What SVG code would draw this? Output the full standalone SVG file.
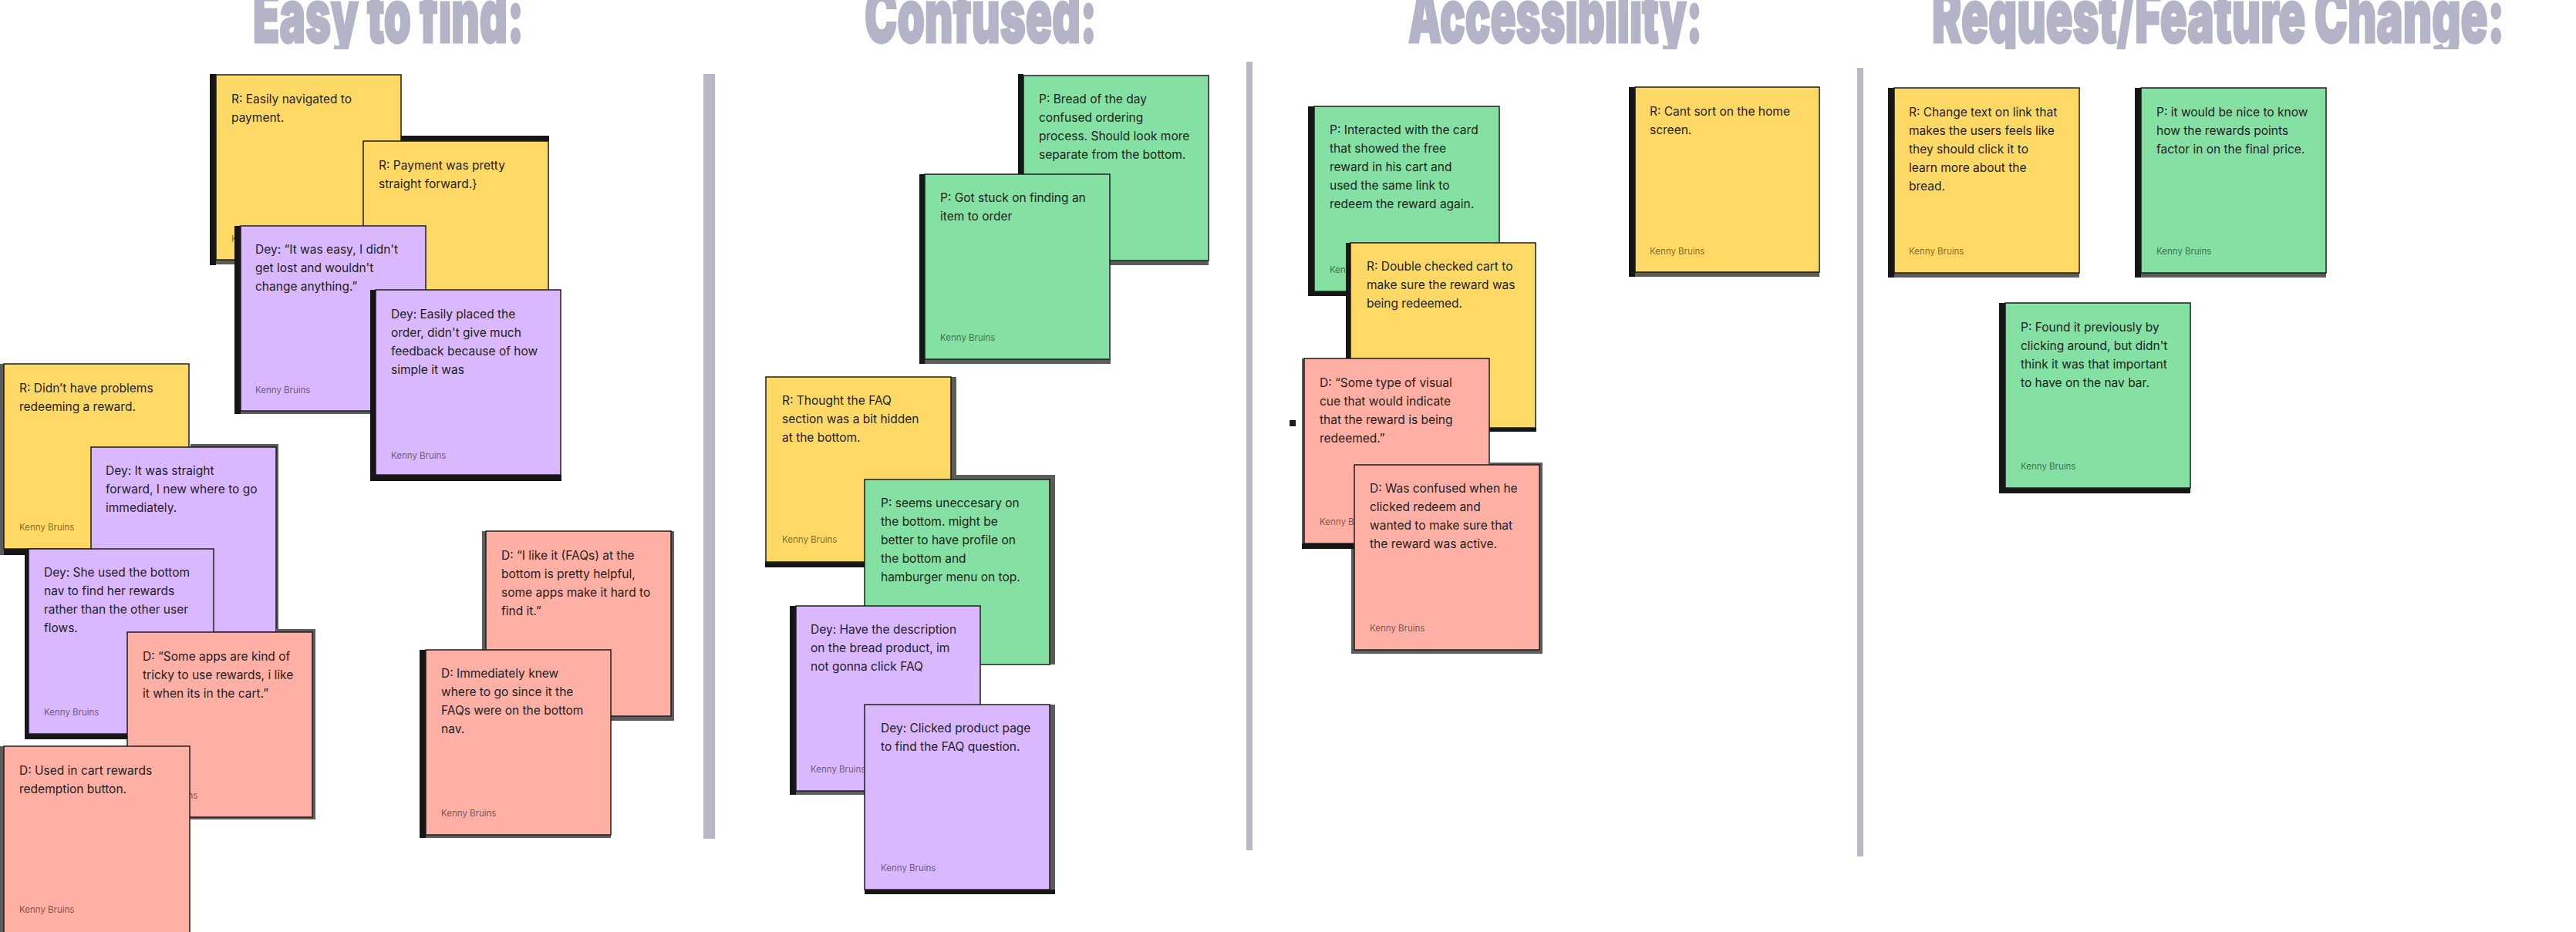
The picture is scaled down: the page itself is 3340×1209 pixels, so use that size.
<svg xmlns="http://www.w3.org/2000/svg" width="3340" height="1209" viewBox="0 0 3340 1209">
<style>
.y{fill:#FFD966}.g{fill:#85E0A3}.v{fill:#D9B8FF}.r{fill:#FFAFA3}
.c{stroke:#1e1e1e;stroke-width:1.5}
.sd{fill:#161616}.sg{fill:#5c5c5c}
.t{font-family:Inter,"Liberation Sans",sans-serif;font-size:15.5px;fill:#1e1e1e}
.k{font-family:Inter,"Liberation Sans",sans-serif;font-size:11.5px;fill:#000;fill-opacity:.55}
.ti{font-family:Inter,"Liberation Sans",sans-serif;font-weight:900;font-size:96px;fill:#b4b4c8;stroke:#b4b4c8;stroke-width:3}
.div{fill:#b8b8c4}
</style>
<defs>
<clipPath id="tclip"><rect x="0" y="0" width="3340" height="64"/></clipPath>
</defs>
<rect width="3340" height="1209" fill="#fff"/>
<g id="titles" clip-path="url(#tclip)">
<text class="ti" x="328" y="55" textLength="351" lengthAdjust="spacingAndGlyphs">Easy to find:</text>
<text class="ti" x="1121" y="55" textLength="301" lengthAdjust="spacingAndGlyphs">Confused:</text>
<text class="ti" x="1826" y="55" textLength="381" lengthAdjust="spacingAndGlyphs">Accessibility:</text>
<text class="ti" x="2505" y="55" textLength="742" lengthAdjust="spacingAndGlyphs">Request/Feature Change:</text>
</g>
<g id="dividers">
<rect class="div" x="912" y="96" width="15" height="992"/>
<rect class="div" x="1616" y="80" width="8" height="1023"/>
<rect class="div" x="2408" y="88" width="8" height="1023"/>
</g>
<g id="connectors"></g>
<rect id="dot" x="1672" y="545" width="8" height="8" fill="#1e1e1e"/>

<!-- Column 1 -->
<g id="note-a">
<rect class="sd" x="272" y="96" width="8" height="248"/><rect class="sg" x="280" y="337" width="240" height="6"/>
<rect class="y c" x="280" y="97" width="240" height="240"/>
<text class="t" x="300" y="134">R: Easily navigated to<tspan x="300" dy="24">payment.</tspan></text>
<text class="k" x="300" y="314">Kenny Bruins</text>
</g>
<g id="note-b">
<rect class="sd" x="520" y="176" width="192" height="7"/>
<rect class="y c" x="471" y="183" width="240" height="240"/>
<text class="t" x="491" y="220">R: Payment was pretty<tspan x="491" dy="24">straight forward.}</tspan></text>
</g>
<g id="note-c">
<rect class="sd" x="304" y="293" width="8" height="244"/><rect class="sg" x="312" y="533" width="240" height="4"/>
<rect class="v c" x="312" y="293" width="240" height="240"/>
<text class="t" x="331" y="329">Dey: “It was easy, I didn't<tspan x="331" dy="24">get lost and wouldn't</tspan><tspan x="331" dy="24">change anything.”</tspan></text>
<text class="k" x="331" y="510">Kenny Bruins</text>
</g>
<g id="note-d">
<rect class="sd" x="480" y="376" width="8" height="248"/><rect class="sd" x="487" y="616" width="241" height="8"/>
<rect class="v c" x="487" y="376" width="240" height="240"/>
<text class="t" x="507" y="413">Dey: Easily placed the<tspan x="507" dy="24">order, didn't give much</tspan><tspan x="507" dy="24">feedback because of how</tspan><tspan x="507" dy="24">simple it was</tspan></text>
<text class="k" x="507" y="595">Kenny Bruins</text>
</g>
<g id="note-e">
<rect class="sg" x="0" y="472" width="5" height="248"/><rect class="sd" x="5" y="712" width="242" height="8"/>
<rect class="y c" x="5" y="472" width="240" height="240"/>
<text class="t" x="25" y="509">R: Didn’t have problems<tspan x="25" dy="24">redeeming a reward.</tspan></text>
<text class="k" x="25" y="688">Kenny Bruins</text>
</g>
<g id="note-f">
<rect class="sg" x="247" y="576" width="114" height="4"/><rect class="sg" x="358" y="580" width="3" height="240"/>
<rect class="v c" x="118" y="580" width="240" height="240"/>
<text class="t" x="137" y="616">Dey: It was straight<tspan x="137" dy="24">forward, I new where to go</tspan><tspan x="137" dy="24">immediately.</tspan></text>
</g>
<g id="note-g">
<rect class="sd" x="32" y="712" width="5" height="247"/><rect class="sd" x="37" y="952" width="241" height="7"/>
<rect class="v c" x="37" y="712" width="240" height="240"/>
<text class="t" x="57" y="748">Dey: She used the bottom<tspan x="57" dy="24">nav to find her rewards</tspan><tspan x="57" dy="24">rather than the other user</tspan><tspan x="57" dy="24">flows.</tspan></text>
<text class="k" x="57" y="928">Kenny Bruins</text>
</g>
<g id="note-h">
<rect class="sg" x="358" y="816" width="51" height="4"/><rect class="sg" x="405" y="820" width="4" height="243"/><rect class="sg" x="165" y="1059" width="244" height="4"/>
<rect class="r c" x="165" y="820" width="240" height="240"/>
<text class="t" x="185" y="857">D: “Some apps are kind of<tspan x="185" dy="24">tricky to use rewards, i like</tspan><tspan x="185" dy="24">it when its in the cart.”</tspan></text>
<text class="k" x="185" y="1036">Kenny Bruins</text>
</g>
<g id="note-i">
<rect class="sg" x="0" y="968" width="5" height="241"/>
<rect class="r c" x="5" y="968" width="241" height="243"/>
<text class="t" x="25" y="1005">D: Used in cart rewards<tspan x="25" dy="24">redemption button.</tspan></text>
<text class="k" x="25" y="1184">Kenny Bruins</text>
</g>
<g id="note-j">
<rect class="sg" x="625" y="689" width="5" height="246"/><rect class="sg" x="630" y="929" width="244" height="6"/><rect class="sg" x="870" y="689" width="4" height="240"/>
<rect class="r c" x="630" y="689" width="240" height="240"/>
<text class="t" x="650" y="726">D: “I like it (FAQs) at the<tspan x="650" dy="24">bottom is pretty helpful,</tspan><tspan x="650" dy="24">some apps make it hard to</tspan><tspan x="650" dy="24">find it.”</tspan></text>
</g>
<g id="note-k">
<rect class="sd" x="544" y="843" width="8" height="244"/><rect class="sg" x="552" y="1082" width="240" height="5"/>
<rect class="r c" x="552" y="843" width="240" height="240"/>
<text class="t" x="572" y="879">D: Immediately knew<tspan x="572" dy="24">where to go since it the</tspan><tspan x="572" dy="24">FAQs were on the bottom</tspan><tspan x="572" dy="24">nav.</tspan></text>
<text class="k" x="572" y="1059">Kenny Bruins</text>
</g>

<!-- Column 2 -->
<g id="note-l">
<rect class="sd" x="1320" y="96" width="7" height="248"/><rect class="sg" x="1327" y="338" width="240" height="6"/>
<rect class="g c" x="1327" y="98" width="240" height="240"/>
<text class="t" x="1347" y="134">P: Bread of the day<tspan x="1347" dy="24">confused ordering</tspan><tspan x="1347" dy="24">process. Should look more</tspan><tspan x="1347" dy="24">separate from the bottom.</tspan></text>
</g>
<g id="note-m">
<rect class="sd" x="1192" y="226" width="7" height="246"/><rect class="sg" x="1199" y="466" width="241" height="6"/>
<rect class="g c" x="1199" y="226" width="240" height="240"/>
<text class="t" x="1219" y="262">P: Got stuck on finding an<tspan x="1219" dy="24">item to order</tspan></text>
<text class="k" x="1219" y="442">Kenny Bruins</text>
</g>
<g id="note-n">
<rect class="sg" x="1233" y="489" width="7" height="240"/><rect class="sd" x="992" y="728" width="248" height="8"/>
<rect class="y c" x="993" y="489" width="240" height="240"/>
<text class="t" x="1014" y="525">R: Thought the FAQ<tspan x="1014" dy="24">section was a bit hidden</tspan><tspan x="1014" dy="24">at the bottom.</tspan></text>
<text class="k" x="1014" y="704">Kenny Bruins</text>
</g>
<g id="note-o">
<rect class="sg" x="1240" y="616" width="128" height="6"/><rect class="sg" x="1361" y="622" width="7" height="240"/>
<rect class="g c" x="1121" y="622" width="240" height="240"/>
<text class="t" x="1142" y="658">P: seems uneccesary on<tspan x="1142" dy="24">the bottom. might be</tspan><tspan x="1142" dy="24">better to have profile on</tspan><tspan x="1142" dy="24">the bottom and</tspan><tspan x="1142" dy="24">hamburger menu on top.</tspan></text>
</g>
<g id="note-p">
<rect class="sd" x="1024" y="786" width="8" height="245"/><rect class="sg" x="1032" y="1026" width="240" height="5"/>
<rect class="v c" x="1032" y="786" width="239" height="240"/>
<text class="t" x="1051" y="822">Dey: Have the description<tspan x="1051" dy="24">on the bread product, im</tspan><tspan x="1051" dy="24">not gonna click FAQ</tspan></text>
<text class="k" x="1051" y="1002">Kenny Bruins</text>
</g>
<g id="note-q">
<rect class="sg" x="1361" y="914" width="7" height="246"/><rect class="sd" x="1121" y="1154" width="247" height="6"/>
<rect class="v c" x="1121" y="914" width="240" height="240"/>
<text class="t" x="1142" y="950">Dey: Clicked product page<tspan x="1142" dy="24">to find the FAQ question.</tspan></text>
<text class="k" x="1142" y="1130">Kenny Bruins</text>
</g>

<!-- Column 3 -->
<g id="note-r">
<rect class="sd" x="1696" y="138" width="8" height="246"/><rect class="sd" x="1704" y="378" width="240" height="6"/>
<rect class="g c" x="1704" y="138" width="240" height="240"/>
<text class="t" x="1724" y="174">P: Interacted with the card<tspan x="1724" dy="24">that showed the free</tspan><tspan x="1724" dy="24">reward in his cart and</tspan><tspan x="1724" dy="24">used the same link to</tspan><tspan x="1724" dy="24">redeem the reward again.</tspan></text>
<text class="k" x="1724" y="354">Kenny Bruins</text>
</g>
<g id="note-s">
<rect class="sd" x="1745" y="315" width="6" height="245"/><rect class="sd" x="1751" y="555" width="241" height="5"/>
<rect class="y c" x="1751" y="315" width="240" height="240"/>
<text class="t" x="1772" y="351">R: Double checked cart to<tspan x="1772" dy="24">make sure the reward was</tspan><tspan x="1772" dy="24">being redeemed.</tspan></text>
</g>
<g id="note-t">
<rect class="sg" x="1688" y="465" width="3" height="247"/><rect class="sd" x="1688" y="705" width="243" height="7"/>
<rect class="r c" x="1691" y="465" width="240" height="240"/>
<text class="t" x="1711" y="502">D: “Some type of visual<tspan x="1711" dy="24">cue that would indicate</tspan><tspan x="1711" dy="24">that the reward is being</tspan><tspan x="1711" dy="24">redeemed.”</tspan></text>
<text class="k" x="1711" y="681">Kenny Bruins</text>
</g>
<g id="note-u">
<rect class="sg" x="1931" y="600" width="69" height="3"/><rect class="sg" x="1996" y="600" width="4" height="248"/><rect class="sg" x="1752" y="712" width="4" height="136"/><rect class="sg" x="1752" y="843" width="248" height="5"/>
<rect class="r c" x="1756" y="603" width="240" height="240"/>
<text class="t" x="1776" y="639">D: Was confused when he<tspan x="1776" dy="24">clicked redeem and</tspan><tspan x="1776" dy="24">wanted to make sure that</tspan><tspan x="1776" dy="24">the reward was active.</tspan></text>
<text class="k" x="1776" y="819">Kenny Bruins</text>
</g>
<g id="note-v">
<rect class="sd" x="2112" y="113" width="8" height="246"/><rect class="sg" x="2120" y="353" width="239" height="6"/>
<rect class="y c" x="2120" y="113" width="239" height="240"/>
<text class="t" x="2139" y="150">R: Cant sort on the home<tspan x="2139" dy="24">screen.</tspan></text>
<text class="k" x="2139" y="330">Kenny Bruins</text>
</g>

<!-- Column 4 -->
<g id="note-w">
<rect class="sd" x="2448" y="114" width="8" height="246"/><rect class="sg" x="2456" y="354" width="240" height="6"/>
<rect class="y c" x="2456" y="114" width="240" height="240"/>
<text class="t" x="2475" y="151">R: Change text on link that<tspan x="2475" dy="24">makes the users feels like</tspan><tspan x="2475" dy="24">they should click it to</tspan><tspan x="2475" dy="24">learn more about the</tspan><tspan x="2475" dy="24">bread.</tspan></text>
<text class="k" x="2475" y="330">Kenny Bruins</text>
</g>
<g id="note-x">
<rect class="sd" x="2768" y="114" width="8" height="246"/><rect class="sg" x="2776" y="354" width="240" height="6"/>
<rect class="g c" x="2776" y="114" width="240" height="240"/>
<text class="t" x="2796" y="151">P: it would be nice to know<tspan x="2796" dy="24">how the rewards points</tspan><tspan x="2796" dy="24">factor in on the final price.</tspan></text>
<text class="k" x="2796" y="330">Kenny Bruins</text>
</g>
<g id="note-y">
<rect class="sd" x="2592" y="393" width="8" height="247"/><rect class="sd" x="2600" y="632" width="240" height="8"/>
<rect class="g c" x="2600" y="393" width="240" height="240"/>
<text class="t" x="2620" y="430">P: Found it previously by<tspan x="2620" dy="24">clicking around, but didn't</tspan><tspan x="2620" dy="24">think it was that important</tspan><tspan x="2620" dy="24">to have on the nav bar.</tspan></text>
<text class="k" x="2620" y="609">Kenny Bruins</text>
</g>
</svg>
